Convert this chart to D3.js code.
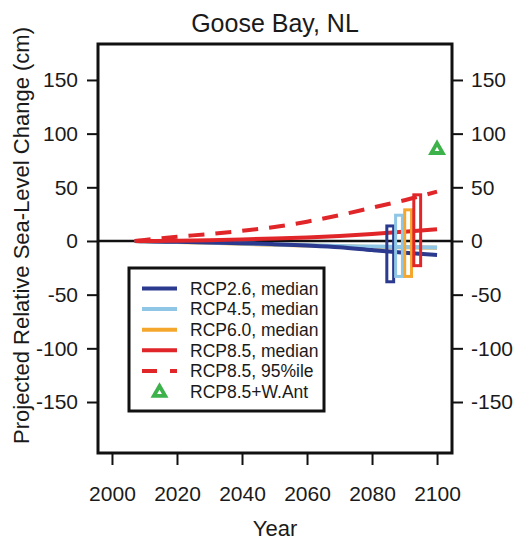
<!DOCTYPE html>
<html>
<head>
<meta charset="utf-8">
<script src="https://cdn.jsdelivr.net/npm/d3@7"></script>
<style>
    body { margin: 0; background: #fff; }
    svg { font-family: "Liberation Sans", Arial, Helvetica, sans-serif; }
    .tick line { stroke: #111; stroke-width: 2px; }
    .tick text { fill: #1a1a1a; font-size: 21px; }
</style>
</head>
<body>
<div id="visu"></div>
<script>

// projected relative sea-level change (cm) for Goose Bay
var years = [2007, 2010, 2020, 2030, 2040, 2050, 2060, 2070, 2080, 2090, 2100];
var rcp26 = [0, -0.3, -0.8, -1.3, -2, -3, -4.2, -5.8, -8.5, -11, -13];
var rcp45 = [0, -0.3, -0.8, -1.5, -2.3, -3.2, -4, -4.7, -5.2, -5.6, -6];
var rcp60 = [0, -0.3, -0.9, -1.7, -2.6, -3.5, -4.3, -5, -5.5, -5.9, -6.3];
var rcp85 = [0, 0, 0.3, 0.8, 1.5, 2.3, 3.3, 4.7, 6.5, 8.7, 11];
var rcp85hi = [0, 1, 4, 6.5, 9.5, 13, 18, 24, 31, 38, 46];

// 2100 ranges, drawn as boxes just left of 2100
var rangeNames = ["RCP2.6", "RCP4.5", "RCP6.0", "RCP8.5"];
var rangeYears = [2085.6, 2088.3, 2091.1, 2093.9];
var rangeLow = [-38, -33, -33, -23];
var rangeHigh = [14, 24, 29, 43];

// West Antarctic collapse add-on
var wantYear = 2100, wantValue = 85;

var xTicks = [2000, 2020, 2040, 2060, 2080, 2100];
var yTicks = [-150, -100, -50, 0, 50, 100, 150];

var legendLabels = ["RCP2.6, median", "RCP4.5, median", "RCP6.0, median",
    "RCP8.5, median", "RCP8.5, 95%ile", "RCP8.5+W.Ant"];

var colors = {
    "RCP2.6": "#2b3a8f",
    "RCP4.5": "#8fc6e6",
    "RCP6.0": "#f4a72c",
    "RCP8.5": "#e1262a",
    "W.Ant": "#3db24b"
};

var width = 523,
    height = 541;

var svg = d3.select("#visu").append("svg")
    .attr("width", width)
    .attr("height", height);

var x = d3.scaleLinear().domain([1995.7, 2104.6]).range([98, 452]);
var y = d3.scaleLinear().domain([-197.5, 183.5]).range([453, 44]);

// plain hyphen for negatives
var plain = function (d) { return String(d); };

// axes, outward ticks, no domain line (the frame is drawn separately)
svg.append("g")
    .attr("transform", "translate(0,453)")
    .call(d3.axisBottom(x).tickValues(xTicks).tickFormat(plain).tickSize(12).tickPadding(21))
    .call(g => g.select(".domain").remove());

svg.append("g")
    .attr("transform", "translate(98,0)")
    .call(d3.axisLeft(y).tickValues(yTicks).tickFormat(plain).tickSize(11).tickPadding(9))
    .call(g => g.select(".domain").remove());

svg.append("g")
    .attr("transform", "translate(452,0)")
    .call(d3.axisRight(y).tickValues(yTicks).tickFormat(plain).tickSize(11).tickPadding(8))
    .call(g => g.select(".domain").remove());

svg.selectAll(".tick text").attr("font-family", null).attr("font-size", null);

// zero line
svg.append("line")
    .attr("x1", x.range()[0]).attr("x2", x.range()[1])
    .attr("y1", y(0)).attr("y2", y(0))
    .attr("stroke", "#111")
    .attr("stroke-width", 2.5);

var line = d3.line()
    .x(function (d) { return x(d[0]); })
    .y(function (d) { return y(d[1]); })
    .curve(d3.curveMonotoneX);

function series(values) {
    return years.map(function (yr, i) { return [yr, values[i]]; });
}

var curves = [
    { values: rcp60, color: colors["RCP6.0"] },
    { values: rcp45, color: colors["RCP4.5"] },
    { values: rcp26, color: colors["RCP2.6"] },
    { values: rcp85, color: colors["RCP8.5"] },
    { values: rcp85hi, color: colors["RCP8.5"], dash: "16,11" }
];

svg.append("g").selectAll("path")
    .data(curves)
    .enter().append("path")
    .attr("d", function (d) { return line(series(d.values)); })
    .attr("fill", "none")
    .attr("stroke", function (d) { return d.color; })
    .attr("stroke-width", 4)
    .attr("stroke-dasharray", function (d) { return d.dash || null; });

// range boxes
var boxWidth = 2.1;
svg.append("g").selectAll("rect")
    .data(rangeNames)
    .enter().append("rect")
    .attr("x", function (d, i) { return x(rangeYears[i] - boxWidth / 2); })
    .attr("width", function (d, i) { return x(rangeYears[i] + boxWidth / 2) - x(rangeYears[i] - boxWidth / 2); })
    .attr("y", function (d, i) { return y(rangeHigh[i]); })
    .attr("height", function (d, i) { return y(rangeLow[i]) - y(rangeHigh[i]); })
    .attr("fill", "none")
    .attr("stroke", function (d) { return colors[d]; })
    .attr("stroke-width", 3);

var triangle = d3.symbol().type(d3.symbolTriangle).size(56);

svg.append("path")
    .attr("d", triangle())
    .attr("transform", "translate(" + x(wantYear) + "," + y(wantValue) + ")")
    .attr("fill", "none")
    .attr("stroke", colors["W.Ant"])
    .attr("stroke-width", 3.8);

// plot frame
svg.append("rect")
    .attr("x", 98).attr("y", 44)
    .attr("width", 354).attr("height", 409)
    .attr("fill", "none")
    .attr("stroke", "#111")
    .attr("stroke-width", 3);

// legend
var legend = svg.append("g");
legend.append("rect")
    .attr("x", 129).attr("y", 268)
    .attr("width", 195).attr("height", 143)
    .attr("fill", "#fff")
    .attr("stroke", "#111")
    .attr("stroke-width", 3);

var legendKeys = ["RCP2.6", "RCP4.5", "RCP6.0", "RCP8.5", "RCP8.5", "W.Ant"];
var rowY = function (i) { return 288.5 + i * 20.6; };

legendLabels.forEach(function (label, i) {
    if (i < 5) {
        legend.append("line")
            .attr("x1", 142).attr("x2", 177)
            .attr("y1", rowY(i)).attr("y2", rowY(i))
            .attr("stroke", colors[legendKeys[i]])
            .attr("stroke-width", 4)
            .attr("stroke-dasharray", i == 4 ? "15,13" : null);
    } else {
        legend.append("path")
            .attr("d", triangle())
            .attr("transform", "translate(159.5," + (rowY(i) + 1) + ")")
            .attr("fill", "none")
            .attr("stroke", colors[legendKeys[i]])
            .attr("stroke-width", 3.8);
    }
    legend.append("text")
        .attr("x", 190)
        .attr("y", rowY(i))
        .attr("dy", "0.36em")
        .attr("font-size", "17.5px")
        .attr("fill", "#1a1a1a")
        .text(label);
});

// titles
svg.append("text")
    .attr("x", 275).attr("y", 32)
    .attr("text-anchor", "middle")
    .attr("font-size", "25px")
    .attr("fill", "#1a1a1a")
    .text("Goose Bay, NL");

svg.append("text")
    .attr("x", 275).attr("y", 536)
    .attr("text-anchor", "middle")
    .attr("font-size", "22px")
    .attr("fill", "#1a1a1a")
    .text("Year");

svg.append("text")
    .attr("transform", "translate(28.5,235.5) rotate(-90)")
    .attr("text-anchor", "middle")
    .attr("font-size", "22px")
    .attr("fill", "#1a1a1a")
    .text("Projected Relative Sea-Level Change (cm)");

</script>
</body>
</html>
